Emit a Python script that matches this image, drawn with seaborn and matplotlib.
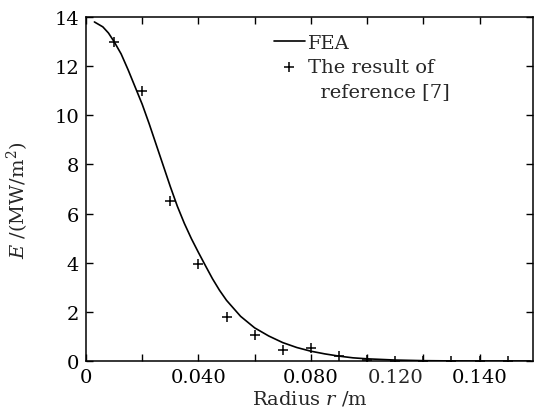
import numpy as np
import matplotlib
matplotlib.use("Agg")
import matplotlib.pyplot as plt
from matplotlib.lines import Line2D
import seaborn as sns

# FEA curve
fea_r = [0.003, 0.006, 0.008, 0.010, 0.0125, 0.015, 0.0175, 0.020, 0.0225, 0.025,
         0.0275, 0.030, 0.0325, 0.035, 0.0375, 0.040, 0.0425, 0.045, 0.0475, 0.050,
         0.055, 0.060, 0.065, 0.070, 0.075, 0.080, 0.085, 0.090, 0.095, 0.100,
         0.110, 0.120, 0.130, 0.140, 0.150, 0.158]
fea_E = [13.8, 13.6, 13.35, 13.0, 12.5, 11.85, 11.15, 10.45, 9.65, 8.8,
         7.95, 7.1, 6.3, 5.6, 4.98, 4.42, 3.88, 3.35, 2.88, 2.47,
         1.82, 1.35, 1.02, 0.75, 0.55, 0.40, 0.29, 0.20, 0.13, 0.09,
         0.04, 0.015, 0.005, 0.0, 0.0, 0.0]

# result of reference [7]
ref_r = [0.01, 0.02, 0.03, 0.04, 0.05, 0.06, 0.07, 0.08, 0.09, 0.10,
         0.11, 0.12, 0.13, 0.14, 0.15]
ref_E = [13.0, 11.0, 6.5, 3.95, 1.8, 1.05, 0.45, 0.55, 0.2, 0.03,
         0.02, 0.02, 0.02, 0.02, 0.02]

xticks = [0, 0.02, 0.04, 0.06, 0.08, 0.10, 0.12, 0.14]
xtick_labels = ["0", "", "0.040", "", "0.080", "", "", "0.140"]
extra_xtick = [0.11]
extra_xtick_label = ["0.120"]
yticks = [0, 2, 4, 6, 8, 10, 12, 14]

sns.set_style("ticks")
plt.rcParams['font.family'] = ['DejaVu Serif']
plt.rcParams['mathtext.fontset'] = 'dejavuserif'
plt.rcParams['font.size'] = 14

fig = plt.figure(figsize=(5.34, 4.10), dpi=100)
ax = fig.add_axes([0.161, 0.117, 0.837, 0.839])

sns.lineplot(x=fea_r, y=fea_E, color="black", linewidth=1.2, ax=ax, label="FEA")
sns.scatterplot(x=ref_r, y=ref_E, marker="+", s=55, color="black",
                linewidth=1.1, ax=ax, label="The result of", zorder=3)

ax.set_xlim(0, 0.159)
ax.set_ylim(0, 14)
ax.set_xticks(xticks)
ax.set_xticklabels(xtick_labels)
ax.set_xticks(extra_xtick, minor=True)
ax.set_xticklabels(extra_xtick_label, minor=True)
ax.set_yticks(yticks)

ax.tick_params(axis="both", which="major", direction="in", length=5, width=1,
               top=True, right=True, pad=5, colors="black")
ax.tick_params(axis="x", which="minor", length=0, pad=5)
for s in ax.spines.values():
    s.set_linewidth(1.1)
    s.set_color("black")

ax.set_xlabel(r"Radius $r$ /m", labelpad=2)
ax.set_ylabel(r"$E$ /(MW/m$^2$)")
ax.yaxis.set_label_coords(-0.122, 0.47)

handles, labels = ax.get_legend_handles_labels()
handles.append(Line2D([], [], color="none"))
labels.append("  reference [7]")
ax.legend(handles, labels, loc="upper left", bbox_to_anchor=(0.42, 0.95),
          frameon=False, handlelength=1.6, handletextpad=0.15, labelspacing=0.3,
          borderpad=0, borderaxespad=0, fontsize=14)

fig.savefig("out.png", dpi=100)
